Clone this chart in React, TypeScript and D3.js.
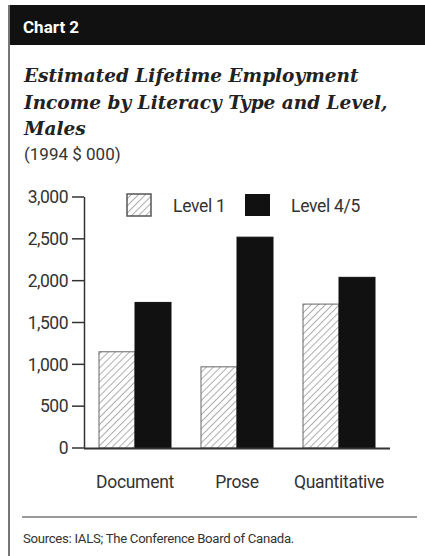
import React from "react";
import * as d3 from "d3";

const categories = ["Document", "Prose", "Quantitative"];
const level1 = [1150, 970, 1720];
const level45 = [1740, 2520, 2040];
const seriesNames = ["Level 1", "Level 4/5"];
const yTicks = [0, 500, 1000, 1500, 2000, 2500, 3000];

const W = 425;
const H = 556;
const narrow = "Roboto, 'Liberation Sans', sans-serif";
const serif = "'DejaVu Serif', 'Liberation Serif', serif";

export default function App() {
  const x0 = d3.scaleBand<string>().domain(categories).range([84, 390]).paddingInner(0).paddingOuter(0);
  const groupW = 72;
  const x1 = d3.scaleBand<string>().domain(seriesNames).range([0, groupW]).padding(0);
  const y = d3.scaleLinear().domain([0, 3000]).range([448, 197]);
  const fmt = d3.format(",");

  const rows = categories.map((c, i) => ({ c, vals: [level1[i], level45[i]] }));

  return (
    <svg width={W} height={H} style={{ position: "absolute", left: 0, top: 0, background: "#fff" }}>
      <defs>
        <pattern id="hatch" patternUnits="userSpaceOnUse" width="5" height="5" patternTransform="rotate(45)">
          <rect width="5" height="5" fill="#fff" />
          <line x1="0" y1="0" x2="0" y2="5" stroke="#9a9a9a" strokeWidth="1.6" />
        </pattern>
      </defs>
      <rect x={0} y={0} width={W} height={H} fill="#fff" />
      {/* header */}
      <rect x={8} y={5} width={W - 8} height={40} fill="#111" />
      <line x1={9} y1={5} x2={9} y2={H} stroke="#777" strokeWidth={2} />
      <text x={23} y={33} fill="#fff" fontFamily={narrow} fontWeight="bold" fontSize={17}>
        Chart 2
      </text>
      {/* title */}
      <g fontFamily={serif} fontStyle="italic" fontWeight="bold" fontSize={18.5} fill="#222">
        <text x={24} y={82}>Estimated Lifetime Employment</text>
        <text x={24} y={109}>Income by Literacy Type and Level,</text>
        <text x={24} y={135}>Males</text>
      </g>
      <text x={24} y={160} fontFamily={narrow} fontSize={17} fill="#333">(1994 $ 000)</text>

      {/* y axis */}
      <line x1={84.5} y1={197} x2={84.5} y2={448} stroke="#333" strokeWidth={1.5} />
      {yTicks.map((t) => (
        <g key={t}>
          <line x1={72} x2={84} y1={y(t)} y2={y(t)} stroke="#333" strokeWidth={1.5} />
          <text x={68} y={y(t)} dy="0.36em" textAnchor="end" fontFamily={narrow} fontSize={17.5} fill="#333" letterSpacing={-0.5}>
            {fmt(t)}
          </text>
        </g>
      ))}

      {/* bars */}
      {rows.map((r) => {
        const gx = (x0(r.c) as number) + (x0.bandwidth() - groupW) / 2;
        return (
          <g key={r.c}>
            {r.vals.map((v, j) => (
              <rect
                key={j}
                x={gx + (x1(seriesNames[j]) as number)}
                y={y(v)}
                width={x1.bandwidth()}
                height={y(0) - y(v)}
                fill={j === 0 ? "url(#hatch)" : "#111"}
                stroke={j === 0 ? "#666" : "#111"}
                strokeWidth={1}
              />
            ))}
            <text
              x={(x0(r.c) as number) + x0.bandwidth() / 2}
              y={488}
              textAnchor="middle"
              fontFamily={narrow}
              fontSize={17.5}
              fill="#333"
              letterSpacing={-0.3}
            >
              {r.c}
            </text>
          </g>
        );
      })}
      {/* x axis */}
      <line x1={84} y1={448.5} x2={390} y2={448.5} stroke="#333" strokeWidth={1.8} />

      {/* legend */}
      <rect x={127} y={194} width={24} height={22} fill="url(#hatch)" stroke="#555" strokeWidth={1.5} />
      <text x={173} y={212} fontFamily={narrow} fontSize={17.5} fill="#333" letterSpacing={-0.3}>{seriesNames[0]}</text>
      <rect x={245} y={194} width={25} height={22} fill="#111" />
      <text x={291} y={212} fontFamily={narrow} fontSize={17.5} fill="#333" letterSpacing={-0.3}>{seriesNames[1]}</text>

      {/* footer */}
      <line x1={22} y1={517} x2={417} y2={517} stroke="#777" strokeWidth={1.5} />
      <text x={23} y={543} fontFamily={narrow} fontSize={13.2} fill="#333" letterSpacing={-0.3}>
        Sources: IALS; The Conference Board of Canada.
      </text>
    </svg>
  );
}
